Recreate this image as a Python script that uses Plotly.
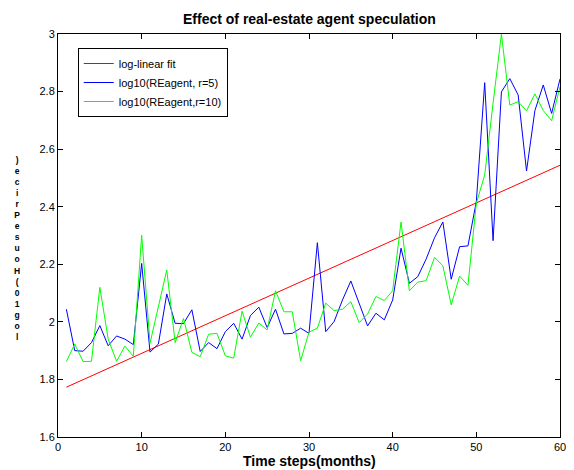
import plotly.graph_objects as go

# ---- data ----
months = list(range(1, 61))
re_r5 = [2.044, 1.900, 1.898, 1.928, 1.987, 1.917, 1.951, 1.940, 1.921, 2.203,
         1.895, 1.923, 2.097, 1.995, 1.994, 2.042, 1.897, 1.928, 1.907, 1.966,
         1.995, 1.940, 2.022, 2.051, 1.980, 2.044, 1.958, 1.960, 1.978, 1.960,
         2.275, 1.966, 2.001, 2.076, 2.142, 2.065, 1.986, 2.030, 2.007, 2.076,
         2.256, 2.134, 2.157, 2.218, 2.292, 2.347, 2.148, 2.261, 2.264, 2.418,
         2.831, 2.282, 2.799, 2.845, 2.788, 2.524, 2.734, 2.823, 2.724, 2.844]
re_r10 = [1.862, 1.923, 1.862, 1.863, 2.120, 1.940, 1.863, 1.916, 1.880, 2.301,
          1.926, 2.059, 2.180, 1.928, 2.012, 1.894, 1.879, 1.957, 1.960, 1.882,
          1.874, 2.037, 1.947, 1.996, 1.972, 2.108, 2.035, 2.035, 1.865, 1.964,
          1.978, 2.065, 2.039, 2.044, 2.070, 1.997, 2.027, 2.088, 2.074, 2.108,
          2.347, 2.108, 2.138, 2.143, 2.224, 2.195, 2.059, 2.159, 2.127, 2.412,
          2.510, 2.760, 3.000, 2.753, 2.765, 2.733, 2.792, 2.734, 2.699, 2.817]
fit_x = [1, 60]
fit_y = [1.773, 2.544]
x_ticks = [0, 10, 20, 30, 40, 50, 60]
y_ticks = [1.6, 1.8, 2.0, 2.2, 2.4, 2.6, 2.8, 3.0]
y_tick_text = ["1.6", "1.8", "2", "2.2", "2.4", "2.6", "2.8", "3"]
title_text = "Effect of real-estate agent speculation"
x_label = "Time steps(months)"
y_label = "log10(HousePrice)"
names = ["log-linear fit", "log10(REagent, r=5)", "log10(REagent,r=10)"]

FONT = "Liberation Sans, Arial, sans-serif"
W, H = 574, 470
L, R, T, B = 58, 8, 34, 33
plot_h = H - T - B
plot_w = W - L - R

fig = go.Figure()
fig.add_trace(go.Scatter(x=fit_x, y=fit_y, mode="lines", name=names[0],
                         line=dict(color="#ff0000", width=1)))
fig.add_trace(go.Scatter(x=months, y=re_r5, mode="lines", name=names[1],
                         line=dict(color="#0000ff", width=1)))
fig.add_trace(go.Scatter(x=months, y=re_r10, mode="lines", name=names[2],
                         line=dict(color="#00ff00", width=1)))

axis_common = dict(showline=True, linecolor="black", linewidth=1, mirror="allticks",
                   ticks="inside", ticklen=5, tickcolor="black", showgrid=False,
                   zeroline=False, tickfont=dict(family=FONT, size=11, color="black"))
fig.update_xaxes(range=[0, 60], tickvals=x_ticks, **axis_common)
fig.update_yaxes(range=[1.6, 3.0], tickvals=y_ticks, ticktext=y_tick_text, **axis_common)

# y label drawn as a vertical stack of upright characters (as in the reference)
stacked = "<br>".join(reversed(y_label))

annotations = [
    dict(text="<b>" + title_text + "</b>", xref="paper", yref="paper",
         x=0.5, y=1 + (T - 19) / plot_h, xanchor="center", yanchor="middle",
         showarrow=False, font=dict(family=FONT, size=14, color="black")),
    dict(text="<b>" + x_label + "</b>", xref="paper", yref="paper",
         x=0.5, y=-(461 - (H - B)) / plot_h, xanchor="center", yanchor="middle",
         showarrow=False, font=dict(family=FONT, size=14, color="black")),
    dict(text="<b>" + stacked + "</b>", xref="paper", yref="paper",
         x=(17 - L) / plot_w, y=(H - B - 248) / plot_h,
         xanchor="center", yanchor="middle", showarrow=False, align="center",
         font=dict(family=FONT, size=8.5, color="black")),
]

fig.update_layout(
    width=W, height=H,
    margin=dict(l=L, r=R, t=T, b=B),
    paper_bgcolor="white", plot_bgcolor="white",
    showlegend=True, hovermode=False,
    legend=dict(x=(78 - L) / plot_w, y=(H - B - 48) / plot_h,
                xanchor="left", yanchor="top",
                bgcolor="white", bordercolor="black", borderwidth=1,
                font=dict(family=FONT, size=11, color="black"),
                tracegroupgap=0),
    annotations=annotations,
)

fig.write_html("out.html", config={"displayModeBar": False},
               post_script="document.body.style.margin='0';")
